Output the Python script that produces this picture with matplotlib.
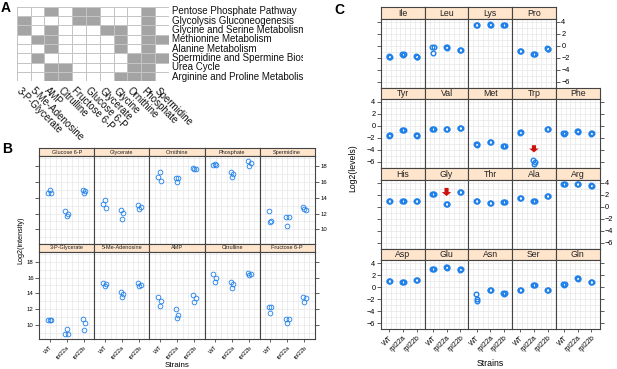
import numpy as np
import matplotlib
matplotlib.use('Agg')
import matplotlib.pyplot as plt
from matplotlib.colors import ListedColormap
from matplotlib.transforms import Bbox, TransformedBbox

plt.rcParams['font.family'] = ['Liberation Sans', 'DejaVu Sans']

# ---------------------------------------------------------------
# Data
# ---------------------------------------------------------------
METABOLITES = ['3-P-Glycerate', '5-Me-Adenosine', 'AMP', 'Citrulline', 'Fructose 6-P',
               'Glucose 6-P', 'Glycerate', 'Glycine', 'Ornithine', 'Phosphate', 'Spermidine']
PATHWAYS = ['Pentose Phosphate Pathway', 'Glycolysis Gluconeogenesis',
            'Glycine and Serine Metabolism', 'Methionine Metabolism', 'Alanine Metabolism',
            'Spermidine and Spermine Biosynthesis', 'Urea Cycle',
            'Arginine and Proline Metabolism']
MEMBERSHIP = [
    [0, 0, 1, 0, 1, 1, 0, 0, 0, 1, 0],
    [1, 0, 0, 0, 1, 1, 0, 0, 0, 1, 0],
    [1, 0, 1, 0, 0, 0, 1, 1, 0, 1, 0],
    [0, 1, 1, 0, 0, 0, 0, 1, 0, 1, 1],
    [0, 0, 1, 0, 0, 0, 0, 1, 0, 1, 0],
    [0, 1, 0, 0, 0, 0, 0, 0, 1, 1, 1],
    [0, 0, 1, 1, 0, 0, 0, 0, 1, 1, 0],
    [0, 0, 1, 1, 0, 0, 0, 1, 1, 1, 0],
]

STRAINS = ['WT', 'rpl22a', 'rpl22b']

# panel B: log2 intensity, 3 replicates per strain
B_TOP = ['Glucose 6-P', 'Glycerate', 'Ornithine', 'Phosphate', 'Spermidine']
B_BOTTOM = ['3-P-Glycerate', '5-Me-Adenosine', 'AMP', 'Citrulline', 'Fructose 6-P']
B_VALUES = {
    'Glucose 6-P':    [[14.6, 14.6, 15.03], [12.27, 11.98, 11.72], [15.03, 14.85, 14.6]],
    'Glycerate':      [[13.25, 12.74, 13.67], [12.48, 12.1, 11.34], [13.12, 12.82, 12.52]],
    'Ornithine':      [[16.65, 16.18, 17.24], [16.51, 16.51, 15.96], [17.75, 17.66, 17.7]],
    'Phosphate':      [[18.13, 18.13, 18.34], [17.24, 17.07, 16.6], [18.64, 18.47, 18.09]],
    'Spermidine':     [[12.31, 11.08, 10.87], [11.59, 11.55, 10.48], [12.82, 12.48, 12.6]],
    '3-P-Glycerate':  [[10.6, 10.65, 10.6], [8.81, 8.81, 9.53], [10.76, 10.2, 9.32]],
    '5-Me-Adenosine': [[15.25, 15.13, 14.91], [14.11, 13.86, 13.48], [15.25, 15.05, 14.95]],
    'AMP':            [[13.51, 13.0, 12.37], [11.99, 11.19, 10.81], [13.81, 13.35, 12.84]],
    'Citrulline':     [[16.4, 15.89, 15.46], [15.38, 15.13, 14.7], [16.6, 16.48, 16.27]],
    'Fructose 6-P':   [[12.2, 12.3, 11.52], [10.7, 10.7, 10.25], [13.48, 13.35, 12.88]],
}

# panel C: log2 levels of amino acids
C_ROWS = [
    ['Ile', 'Leu', 'Lys', 'Pro'],
    ['Tyr', 'Val', 'Met', 'Trp', 'Phe'],
    ['His', 'Gly', 'Thr', 'Ala', 'Arg'],
    ['Asp', 'Glu', 'Asn', 'Ser', 'Gln'],
]
C_VALUES = {
    'Ile': [[-1.75, -1.95, -1.85], [-1.45, -1.45, -1.5], [-1.75, -1.85, -1.9]],
    'Leu': [[-0.33, -0.33, -1.2], [-0.33, -0.3, -0.35], [-0.7, -0.7, -0.75]],
    'Lys': [[3.5, 3.5, 3.45], [3.55, 3.5, 3.5], [3.4, 3.4, 3.35]],
    'Pro': [[-0.85, -0.85, -0.9], [-1.4, -1.4, -1.45], [-0.45, -0.6, -0.5]],
    'Tyr': [[-1.55, -1.55, -1.6], [-0.6, -0.6, -0.65], [-1.55, -1.5, -1.6]],
    'Val': [[-0.5, -0.5, -0.45], [-0.5, -0.5, -0.55], [-0.4, -0.4, -0.35]],
    'Met': [[-3.05, -3.05, -3.1], [-2.6, -2.6, -2.65], [-3.3, -3.3, -3.35]],
    'Trp': [[-1.05, -1.05, -1.1], [-5.6, -6.0, -6.3], [-0.5, -0.5, -0.45]],
    'Phe': [[-1.2, -1.2, -1.25], [-0.9, -0.9, -0.95], [-1.2, -1.2, -1.25]],
    'His': [[0.9, 0.9, 0.9], [0.95, 0.95, 0.95], [0.85, 0.85, 0.85]],
    'Gly': [[2.1, 2.1, 2.1], [0.35, 0.35, 0.35], [2.45, 2.45, 2.45]],
    'Thr': [[0.85, 0.85, 0.85], [0.6, 0.6, 0.6], [0.75, 0.75, 0.75]],
    'Ala': [[1.4, 1.4, 1.4], [1.0, 1.0, 1.0], [1.8, 1.8, 1.8]],
    'Arg': [[3.8, 3.8, 3.75], [3.8, 3.8, 3.75], [3.5, 3.5, 3.55]],
    'Asp': [[1.0, 1.0, 0.95], [0.9, 0.9, 0.9], [1.2, 1.2, 1.25]],
    'Glu': [[3.0, 3.0, 2.95], [3.3, 3.3, 3.25], [2.95, 2.95, 2.9]],
    'Asn': [[-1.2, -1.95, -2.3], [-0.5, -0.5, -0.55], [-1.05, -1.05, -1.1]],
    'Ser': [[-0.45, -0.45, -0.45], [0.4, 0.4, 0.4], [-0.5, -0.5, -0.5]],
    'Gln': [[0.45, 0.45, 0.4], [1.45, 1.45, 1.4], [0.9, 0.9, 0.85]],
}
# red arrows: panel -> (strain index, y start, y end)
C_ARROWS = {'Trp': (2, -3.2, -4.4), 'Gly': (2, 3.1, 1.75)}

# ---------------------------------------------------------------
# Styling
# ---------------------------------------------------------------
W, H = 617, 369
BLUE = '#1f80ea'
FRAME = '#444444'
STRIP = '#ffe5cc'
GRIDC = '#e8e8e8'
RED = '#cc1111'

fig = plt.figure(figsize=(W / 100, H / 100), dpi=100)


def px_axes(x0, y0, x1, y1):
    return fig.add_axes([x0 / W, 1 - y1 / H, (x1 - x0) / W, (y1 - y0) / H])


def strip(x0, y0, x1, y1, label, fs):
    s = px_axes(x0, y0, x1, y1)
    s.set_facecolor(STRIP)
    s.set_xticks([])
    s.set_yticks([])
    for sp in s.spines.values():
        sp.set_color(FRAME)
        sp.set_linewidth(0.8)
    s.text(0.5, 0.45, label, transform=s.transAxes, ha='center', va='center',
           fontsize=fs, color='#222222')


def panel(x0, y0, x1, y1, vals, ylim, yticks, jit, ms, mew, nv):
    ax = px_axes(x0, y0, x1, y1)
    ax.set_xlim(0.4, 3.6)
    ax.set_ylim(*ylim)
    for x in np.linspace(0.4, 3.6, nv + 1)[1:-1]:
        ax.axvline(x, color=GRIDC, lw=0.5, zorder=0)
    for y in np.arange(np.ceil(ylim[0]), ylim[1], 1.0):
        ax.axhline(y, color=GRIDC, lw=0.5, zorder=0)
    for i, reps in enumerate(vals):
        xs = [i + 1 + jit[k] for k in range(len(reps))]
        ax.plot(xs, reps, 'o', mfc='none', mec=BLUE, ms=ms, mew=mew, zorder=3)
    for sp in ax.spines.values():
        sp.set_color(FRAME)
        sp.set_linewidth(0.8)
    ax.set_xticks([1, 2, 3])
    ax.set_yticks(yticks)
    ax.tick_params(axis='both', which='both', bottom=False, top=False, left=False, right=False,
                   labelbottom=False, labelleft=False, labelright=False, labeltop=False,
                   direction='out', length=3, width=0.6, color=FRAME, pad=1)
    return ax


# ---------------------------------------------------------------
# Panel A: pathway membership grid
# ---------------------------------------------------------------
axA = px_axes(16.7, 6.7, 169, 81.3)
axA.pcolormesh(np.array(MEMBERSHIP), cmap=ListedColormap(['white', '#a4a4a4']),
               edgecolors='#c4c4c4', linewidth=0.6)
axA.set_xlim(0, len(METABOLITES))
axA.set_ylim(len(PATHWAYS), 0)
axA.axis('off')
clip = TransformedBbox(Bbox.from_extents(0, 0, 303 / W, 1), fig.transFigure)
for i, name in enumerate(PATHWAYS):
    t = axA.text(len(METABOLITES) + 0.2, i + 0.5, name, ha='left', va='center',
                 fontsize=7, color='#111111', clip_on=True)
    t.set_clip_box(clip)
for j, name in enumerate(METABOLITES):
    axA.text(j + 0.35, len(PATHWAYS) + 0.45, name, rotation=-45, rotation_mode='anchor',
             ha='left', va='top', fontsize=7, color='#111111', clip_on=False)

# ---------------------------------------------------------------
# Panel B: metabolites lattice (2 x 5)
# ---------------------------------------------------------------
bx = [39.3 + 55.08 * c for c in range(6)]
b_rows = [(B_TOP, 148.3, 156.0, 243.5), (B_BOTTOM, 243.5, 251.5, 339.0)]
jitB = [-0.08, 0.08, 0.0]
for r, (names, sy, py0, py1) in enumerate(b_rows):
    for c, name in enumerate(names):
        strip(bx[c], sy, bx[c + 1], py0, name, 4.0)
        ax = panel(bx[c], py0, bx[c + 1], py1, B_VALUES[name], (8.2, 19.3),
                   [10, 12, 14, 16, 18], jitB, 3.4, 0.6, 10)
        if c == 0:
            ax.tick_params(axis='y', left=True, labelleft=(r == 1), labelsize=4.3)
        if c == 4:
            ax.tick_params(axis='y', right=True, labelright=(r == 0), labelsize=4.3)
        if r == 1:
            ax.set_xticklabels(STRAINS, rotation=45, ha='right', va='top',
                               rotation_mode='anchor', fontsize=4.2)
            ax.tick_params(axis='x', bottom=True, labelbottom=True, length=2, pad=2)

fig.text(21 / W, 1 - 240 / H, 'Log2(intensity)', rotation=90, ha='center', va='center',
         fontsize=5.2)
fig.text(177 / W, 1 - 365.5 / H, 'Strains', ha='center', va='center', fontsize=5.8)

# ---------------------------------------------------------------
# Panel C: amino acid lattice (4 x 5)
# ---------------------------------------------------------------
cx = [381 + 43.7 * c for c in range(6)]
jitC = [-0.05, 0.05, 0.0]
for r, names in enumerate(C_ROWS):
    top = 7 + 80.5 * r
    for c, name in enumerate(names):
        strip(cx[c], top, cx[c + 1], top + 11.5, name, 6.3)
        ax = panel(cx[c], top + 11.5, cx[c + 1], top + 80.5, C_VALUES[name], (-7, 4.5),
                   [-6, -4, -2, 0, 2, 4], jitC, 3.3, 1.0, 9)
        last = len(names) - 1
        if c == 0:
            ax.tick_params(axis='y', left=True, labelleft=(r % 2 == 1), labelsize=5.3)
        if c == last:
            ax.tick_params(axis='y', right=True, labelright=(r % 2 == 0), labelsize=5.3)
        if r == len(C_ROWS) - 1:
            ax.set_xticklabels(STRAINS, rotation=45, ha='right', va='top',
                               rotation_mode='anchor', fontsize=5)
            ax.tick_params(axis='x', bottom=True, labelbottom=True, length=2, pad=2)
        if name in C_ARROWS:
            xi, ya, yb = C_ARROWS[name]
            ax.arrow(xi, ya, 0, yb - ya, width=0.3, head_width=0.7, head_length=0.65,
                     length_includes_head=True, color=RED, zorder=4, lw=0)

fig.text(353 / W, 1 - 168 / H, 'Log2(levels)', rotation=90, ha='center', va='center',
         fontsize=6.2)
fig.text(490 / W, 1 - 363.5 / H, 'Strains', ha='center', va='center', fontsize=6.3)

# panel letters
fig.text(1 / W, 1 - 0.5 / H, 'A', ha='left', va='top', fontsize=10, fontweight='bold')
fig.text(2 / W, 1 - 142 / H, 'B', ha='left', va='top', fontsize=10, fontweight='bold')
fig.text(334 / W, 1 - 2.5 / H, 'C', ha='left', va='top', fontsize=10, fontweight='bold')

fig.savefig('out.png', dpi=100)
